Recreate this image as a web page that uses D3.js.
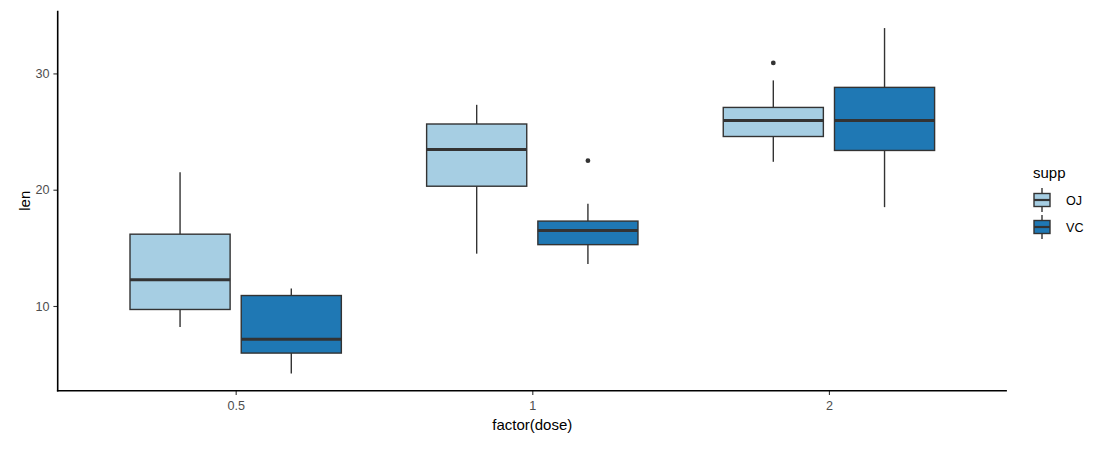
<!DOCTYPE html>
<html>
<head>
<meta charset="utf-8">
<script src="https://cdn.jsdelivr.net/npm/d3@7"></script>
<style>
  html, body { margin: 0; padding: 0; background: #fff; }
  svg { display: block; font-family: "Liberation Sans", Arial, sans-serif; }
</style>
</head>
<body>
<svg id="chart" width="1098" height="454"></svg>
<script>
// ---- data (ToothGrowth boxplot stats) ----
const doses = ["0.5", "1", "2"];
const supps = ["OJ", "VC"];
const suppColors = ["#A6CEE3", "#1F78B4"];
// per series: values in dose order
const ojMin    = [8.2, 14.5, 22.4];
const ojLower  = [9.7, 20.3, 24.575];
const ojMiddle = [12.25, 23.45, 25.95];
const ojUpper  = [16.175, 25.65, 27.075];
const ojMax    = [21.5, 27.3, 29.4];
const ojOutliers = [[], [], [30.9]];
const vcMin    = [4.2, 13.6, 18.5];
const vcLower  = [5.95, 15.275, 23.375];
const vcMiddle = [7.15, 16.5, 25.95];
const vcUpper  = [10.9, 17.3, 28.8];
const vcMax    = [11.5, 18.8, 33.9];
const vcOutliers = [[], [22.5], []];
const yTicks = [10, 20, 30];

const series = [
  {supp: "OJ", min: ojMin, lower: ojLower, middle: ojMiddle, upper: ojUpper, max: ojMax, out: ojOutliers},
  {supp: "VC", min: vcMin, lower: vcLower, middle: vcMiddle, upper: vcUpper, max: vcMax, out: vcOutliers}
];
const boxes = [];
series.forEach((s, si) => doses.forEach((d, di) => boxes.push({
  dose: d, supp: s.supp, color: suppColors[si],
  min: s.min[di], lower: s.lower[di], middle: s.middle[di], upper: s.upper[di], max: s.max[di], out: s.out[di]
})));

// ---- layout ----
const panel = {left: 57.7, right: 1006.9, top: 10.8, bottom: 390.7};
const svg = d3.select("#chart");
const FONT = "'Liberation Sans', Arial, sans-serif";

const allVals = boxes.flatMap(b => [b.min, b.max, ...b.out]);
const lo = d3.min(allVals), hi = d3.max(allVals), ex = (hi - lo) * 0.05;
const y = d3.scaleLinear().domain([lo - ex, hi + ex]).range([panel.bottom, panel.top]);
const x = d3.scalePoint().domain(doses).range([panel.left, panel.right]).padding(0.6);
const step = x.step();
const dodge = d3.scaleBand().domain(supps).range([-0.375 * step, 0.375 * step]);
const bw = dodge.bandwidth() * 0.9;

const lineCol = "#333333";
const g = svg.append("g");

boxes.forEach(b => {
  const cx = x(b.dose) + dodge(b.supp) + dodge.bandwidth() / 2;
  const bg = g.append("g");
  bg.append("line").attr("x1", cx).attr("x2", cx).attr("y1", y(b.upper)).attr("y2", y(b.max))
    .attr("stroke", lineCol).attr("stroke-width", 1.4);
  bg.append("line").attr("x1", cx).attr("x2", cx).attr("y1", y(b.lower)).attr("y2", y(b.min))
    .attr("stroke", lineCol).attr("stroke-width", 1.4);
  bg.append("rect").attr("x", cx - bw / 2).attr("width", bw)
    .attr("y", y(b.upper)).attr("height", y(b.lower) - y(b.upper))
    .attr("fill", b.color).attr("stroke", lineCol).attr("stroke-width", 1.4);
  bg.append("line").attr("x1", cx - bw / 2).attr("x2", cx + bw / 2)
    .attr("y1", y(b.middle)).attr("y2", y(b.middle))
    .attr("stroke", lineCol).attr("stroke-width", 3);
  b.out.forEach(o => bg.append("circle").attr("cx", cx).attr("cy", y(o)).attr("r", 2.4).attr("fill", lineCol));
});

// ---- axes ----
const yAxis = d3.axisLeft(y).tickValues(yTicks).tickSize(4.3).tickPadding(4);
const ya = svg.append("g").attr("transform", `translate(${panel.left},0)`).call(yAxis);
const xAxis = d3.axisBottom(x).tickSize(4.3).tickPadding(6.3);
const xa = svg.append("g").attr("transform", `translate(0,${panel.bottom})`).call(xAxis);
[ya, xa].forEach(a => {
  a.select(".domain").remove();
  a.selectAll(".tick line").attr("stroke", lineCol).attr("stroke-width", 1.1);
  a.selectAll(".tick text").attr("fill", "#4D4D4D").style("font-size", "12.6px").style("font-family", FONT);
});
svg.append("line").attr("x1", panel.left).attr("x2", panel.left).attr("y1", panel.top).attr("y2", panel.bottom + 0.7)
  .attr("stroke", "#000").attr("stroke-width", 1.6);
svg.append("line").attr("x1", panel.left - 0.8).attr("x2", panel.right).attr("y1", panel.bottom).attr("y2", panel.bottom)
  .attr("stroke", "#000").attr("stroke-width", 1.6);

// axis titles
svg.append("text").attr("x", (panel.left + panel.right) / 2).attr("y", 430)
  .attr("text-anchor", "middle").style("font-size", "15px").attr("fill", "#000").text("factor(dose)");
svg.append("text").attr("transform", `translate(30,${(panel.top + panel.bottom) / 2}) rotate(-90)`)
  .attr("text-anchor", "middle").style("font-size", "15px").attr("fill", "#000").text("len");

// ---- legend ----
const lg = svg.append("g");
lg.append("text").attr("x", 1033).attr("y", 178).style("font-size", "15px").attr("fill", "#000").text("supp");
supps.forEach((s, i) => {
  const cy = 200 + i * 27;
  const kx = 1042;
  lg.append("line").attr("x1", kx).attr("x2", kx).attr("y1", cy - 12).attr("y2", cy + 12)
    .attr("stroke", lineCol).attr("stroke-width", 1.4);
  lg.append("rect").attr("x", kx - 8).attr("width", 16).attr("y", cy - 6.5).attr("height", 13)
    .attr("fill", suppColors[i]).attr("stroke", lineCol).attr("stroke-width", 1.4);
  lg.append("line").attr("x1", kx - 8).attr("x2", kx + 8).attr("y1", cy).attr("y2", cy)
    .attr("stroke", lineCol).attr("stroke-width", 2.2);
  lg.append("text").attr("x", 1066).attr("y", cy + 4.5).style("font-size", "12.6px").attr("fill", "#000").text(s);
});
</script>
</body>
</html>
